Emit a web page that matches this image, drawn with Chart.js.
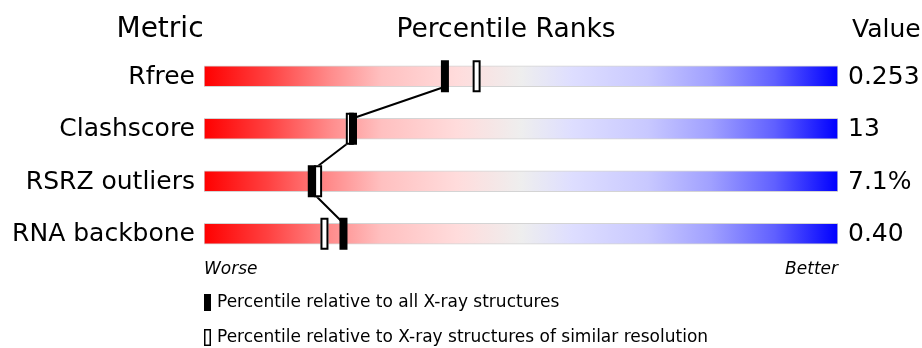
<!DOCTYPE html>
<html>
<head>
<meta charset="utf-8">
<script src="https://cdn.jsdelivr.net/npm/chart.js@4.4.1/dist/chart.umd.min.js"></script>
<style>
  html, body { margin: 0; padding: 0; background: #fff; }
  #chart { display: block; }
</style>
</head>
<body>
<canvas id="chart" width="922" height="348"></canvas>
<script>
// Validation metrics and their percentile ranks
const metrics = ["Rfree", "Clashscore", "RSRZ outliers", "RNA backbone"];
const metricValues = ["0.253", "13", "7.1%", "0.40"];
const percentileAll = [38, 23.5, 17, 22];
const percentileSimilar = [43, 23, 18, 19];
const legendLabels = [
  "Percentile relative to all X-ray structures",
  "Percentile relative to X-ray structures of similar resolution",
];

const FONT = "'DejaVu Sans', 'Liberation Sans', sans-serif";
const BAR_THICK = 21;
const MARK_W = 8;
const MARK_H = 32;

// red -> grey -> blue slider fill
const sliderFill = (context) => {
  const area = context.chart.chartArea;
  if (!area) return "#eee";
  const g = context.chart.ctx.createLinearGradient(area.left, 0, area.right, 0);
  g.addColorStop(0, "#ff0000");
  g.addColorStop(0.1, "#ff4040");
  g.addColorStop(0.2, "#ff8c8c");
  g.addColorStop(0.28, "#ffc0c0");
  g.addColorStop(0.4, "#ffdcdc");
  g.addColorStop(0.5, "#eeeeee");
  g.addColorStop(0.58, "#dedeff");
  g.addColorStop(0.7, "#c8c8ff");
  g.addColorStop(0.8, "#a0a0ff");
  g.addColorStop(0.9, "#6060ff");
  g.addColorStop(1, "#0000ff");
  return g;
};

const percentilePlugin = {
  id: "percentileMarks",
  afterDatasetsDraw(chart) {
    const { ctx, scales } = chart;
    const x = scales.x;
    const y = scales.y;

    // connecting line between the "all structures" markers
    ctx.save();
    ctx.strokeStyle = "#000";
    ctx.lineWidth = 2;
    ctx.beginPath();
    for (let i = 0; i < metrics.length - 1; i++) {
      const x1 = x.getPixelForValue(percentileAll[i]);
      const y1 = y.getPixelForValue(i) + BAR_THICK / 2;
      const x2 = x.getPixelForValue(percentileAll[i + 1]);
      const y2 = y.getPixelForValue(i + 1) - BAR_THICK / 2;
      ctx.moveTo(x1, y1);
      ctx.lineTo(x2, y2);
    }
    ctx.stroke();

    // open markers (similar resolution)
    percentileSimilar.forEach((p, i) => {
      const cx = x.getPixelForValue(p);
      const cy = y.getPixelForValue(i);
      ctx.fillStyle = "#fff";
      ctx.fillRect(cx - MARK_W / 2, cy - MARK_H / 2, MARK_W, MARK_H);
      ctx.strokeStyle = "#000";
      ctx.lineWidth = 2;
      ctx.strokeRect(cx - MARK_W / 2 + 1, cy - MARK_H / 2 + 1, MARK_W - 2, MARK_H - 2);
    });

    // filled markers (all structures)
    percentileAll.forEach((p, i) => {
      const cx = x.getPixelForValue(p);
      const cy = y.getPixelForValue(i);
      ctx.fillStyle = "#000";
      ctx.fillRect(cx - MARK_W / 2, cy - MARK_H / 2, MARK_W, MARK_H);
    });
    ctx.restore();
  },
  afterDraw(chart) {
    const { ctx, scales, chartArea } = chart;
    const y = scales.y;
    ctx.save();
    ctx.fillStyle = "#000";

    // column headers
    ctx.textBaseline = "alphabetic";
    ctx.font = "28px " + FONT;
    ctx.textAlign = "center";
    ctx.fillText("Metric", 160, 37);
    ctx.font = "26.5px " + FONT;
    ctx.fillText("Percentile Ranks", 506, 37);
    ctx.font = "25px " + FONT;
    ctx.textAlign = "left";
    ctx.fillText("Value", 852, 37);

    // metric names and values
    ctx.font = "25px " + FONT;
    ctx.textBaseline = "middle";
    metrics.forEach((m, i) => {
      const cy = y.getPixelForValue(i) + 1;
      ctx.textAlign = "right";
      ctx.fillText(m, 195, cy);
      ctx.textAlign = "left";
      ctx.fillText(metricValues[i], 848, cy);
    });

    // worse / better
    ctx.font = "italic 17px " + FONT;
    ctx.textAlign = "left";
    ctx.fillText("Worse", chartArea.left, 270);
    ctx.textAlign = "right";
    ctx.fillText("Better", chartArea.right, 270);

    // legend
    ctx.font = "17px " + FONT;
    ctx.textAlign = "left";
    ctx.fillRect(204, 294, 7, 17);
    ctx.fillText(legendLabels[0], 217, 303);
    ctx.strokeStyle = "#000";
    ctx.lineWidth = 1.5;
    ctx.strokeRect(204.75, 329.75, 5.5, 15.5);
    ctx.fillText(legendLabels[1], 217, 338);
    ctx.restore();
  },
};

new Chart(document.getElementById("chart"), {
  type: "bar",
  data: {
    labels: metrics,
    datasets: [
      {
        data: metrics.map(() => [0, 100]),
        backgroundColor: sliderFill,
        borderColor: "#d4d4d4",
        borderWidth: 1,
        borderSkipped: false,
        barThickness: BAR_THICK,
      },
    ],
  },
  options: {
    indexAxis: "y",
    responsive: false,
    animation: false,
    layout: {
      padding: { left: 204, right: 84, top: 50, bottom: 88 },
    },
    scales: {
      x: { min: 0, max: 100, display: false },
      y: { display: false },
    },
    plugins: {
      legend: { display: false },
      tooltip: { enabled: false },
    },
  },
  plugins: [percentilePlugin],
});
</script>
</body>
</html>
